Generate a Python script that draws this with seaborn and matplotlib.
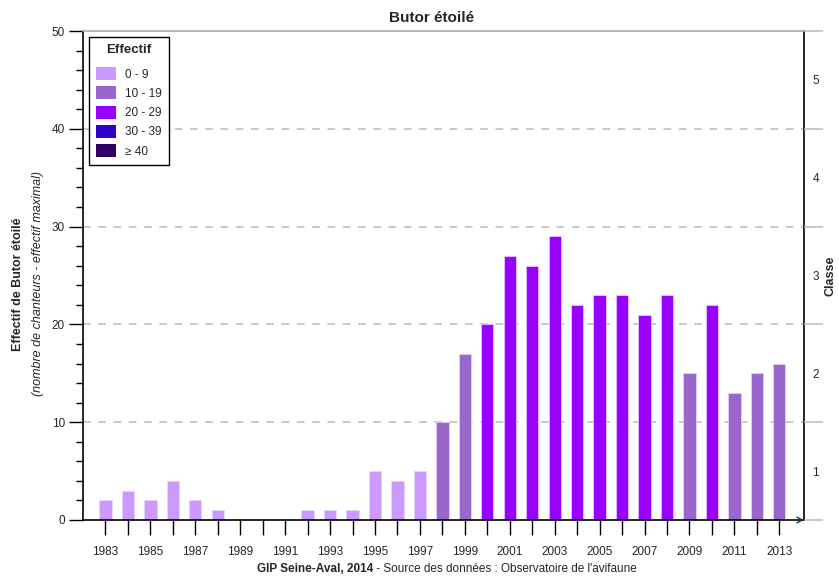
import matplotlib
matplotlib.use("Agg")
import matplotlib.pyplot as plt
import matplotlib.patches as mpatches
import seaborn as sns
import pandas as pd

# data
years = list(range(1983, 2014))
effectif = [2, 3, 2, 4, 2, 1, 0, 0, 0, 1, 1, 1, 5, 4, 5,
            10, 17, 20, 27, 26, 29, 22, 23, 23, 21, 23, 15, 22, 13, 15, 16]
class_labels = ["0 - 9", "10 - 19", "20 - 29", "30 - 39", "\u2265 40"]
class_colors = ["#cc99ff", "#9966cc", "#9900ff", "#3300cc", "#330066"]

df = pd.DataFrame({"annee": years, "effectif": effectif})
df["classe"] = [class_labels[min(v // 10, 4)] for v in effectif]

sns.set_style("white")
plt.rcParams["font.family"] = ["Liberation Sans", "DejaVu Sans"]

fig = plt.figure(figsize=(8.39, 5.76), dpi=100)
ax = fig.add_axes([83 / 839, 1 - 520 / 576, (804 - 83) / 839, (520 - 31) / 576])

sns.barplot(data=df, x="annee", y="effectif", hue="classe",
            hue_order=class_labels, palette=dict(zip(class_labels, class_colors)),
            native_scale=True, width=0.55, dodge=False, legend=False,
            saturation=1, edgecolor="#e8d4ff", linewidth=0.5, ax=ax)

ax.set_xlim(1982, 2014.1)
ax.set_ylim(0, 50)

# grid lines
for v in [10, 20, 30, 40]:
    ax.axhline(v, color="#bbbbbb", linestyle=(0, (5, 5)), linewidth=1.1, zorder=0)

ax.set_xticks(years)
ax.set_xticklabels([str(y) if y % 2 == 1 else "" for y in years], fontsize=8.5)
ax.tick_params(axis="x", direction="out", length=11, width=1, color="black",
               bottom=True, pad=8)
ax.set_yticks([0, 10, 20, 30, 40, 50])
ax.set_yticks(list(range(0, 51, 2)), minor=True)
ax.tick_params(axis="y", which="major", direction="out", length=10, width=1,
               color="black", left=True, labelsize=8.5, pad=3)
ax.tick_params(axis="y", which="minor", direction="out", length=5, width=1,
               color="black", left=True)
ax.set_xlabel("")
ax.set_ylabel("")

for s in ["left", "bottom", "right"]:
    ax.spines[s].set_color("black")
    ax.spines[s].set_linewidth(1.2)
ax.spines["top"].set_color("#aaaaaa")
ax.spines["top"].set_linewidth(1.2)

# arrow at x axis end
ax.annotate("", xy=(1.0, 0), xytext=(0.97, 0), xycoords="axes fraction",
            arrowprops=dict(arrowstyle="->", color="#333333", lw=1.0,
                            shrinkA=0, shrinkB=0))

# right "Classe" axis
ax2 = ax.twinx()
ax2.set_ylim(0, 5)
ax2.set_yticks([0, 1, 2, 3, 4, 5])
ax2.set_yticklabels([])
ax2.tick_params(axis="y", which="major", direction="out", length=14, width=1.1,
                color="#bbbbbb", right=True)
ax2.set_yticks([0.5, 1.5, 2.5, 3.5, 4.5], minor=True)
ax2.set_yticklabels(["1", "2", "3", "4", "5"], minor=True, fontsize=8.5)
ax2.tick_params(axis="y", which="minor", length=0, pad=6, right=True)
for s in ax2.spines.values():
    s.set_visible(False)

# legend
handles = [mpatches.Patch(facecolor=c, edgecolor="none", label=l)
           for l, c in zip(class_labels, class_colors)]
leg = ax2.legend(handles=handles, title="Effectif", loc="upper left",
                 bbox_to_anchor=(6 / 721, 1 - 6 / 489), borderaxespad=0,
                 fontsize=8.5, title_fontproperties={"weight": "bold", "size": 9.5},
                 frameon=True, fancybox=False, handlelength=1.7, handleheight=1.3,
                 handletextpad=0.75, labelspacing=0.5, borderpad=0.6)
leg.get_frame().set_edgecolor("black")
leg.get_frame().set_linewidth(1.0)
leg.get_frame().set_alpha(1)
leg._legend_box.sep = 8

# texts
fig.text(432 / 839, 1 - 18 / 576, "Butor étoilé", ha="center", va="center",
         fontsize=11, fontweight="bold")
fig.text(18 / 839, 1 - 284 / 576, "Effectif de Butor étoilé", rotation=90,
         ha="center", va="center", fontsize=9, fontweight="bold")
fig.text(38 / 839, 1 - 284 / 576, "(nombre de chanteurs - effectif maximal)",
         rotation=90, ha="center", va="center", fontsize=9, fontstyle="italic")
fig.text(830 / 839, 1 - 276 / 576, "Classe", rotation=90, ha="center",
         va="center", fontsize=9, fontweight="bold")
fig.text(373 / 839, 1 - 569 / 576, "GIP Seine-Aval, 2014", ha="right",
         va="center", fontsize=8.5, fontweight="bold")
fig.text(373 / 839, 1 - 569 / 576, " - Source des données : Observatoire de l'avifaune",
         ha="left", va="center", fontsize=8.5)

fig.savefig("out.png", dpi=100)
